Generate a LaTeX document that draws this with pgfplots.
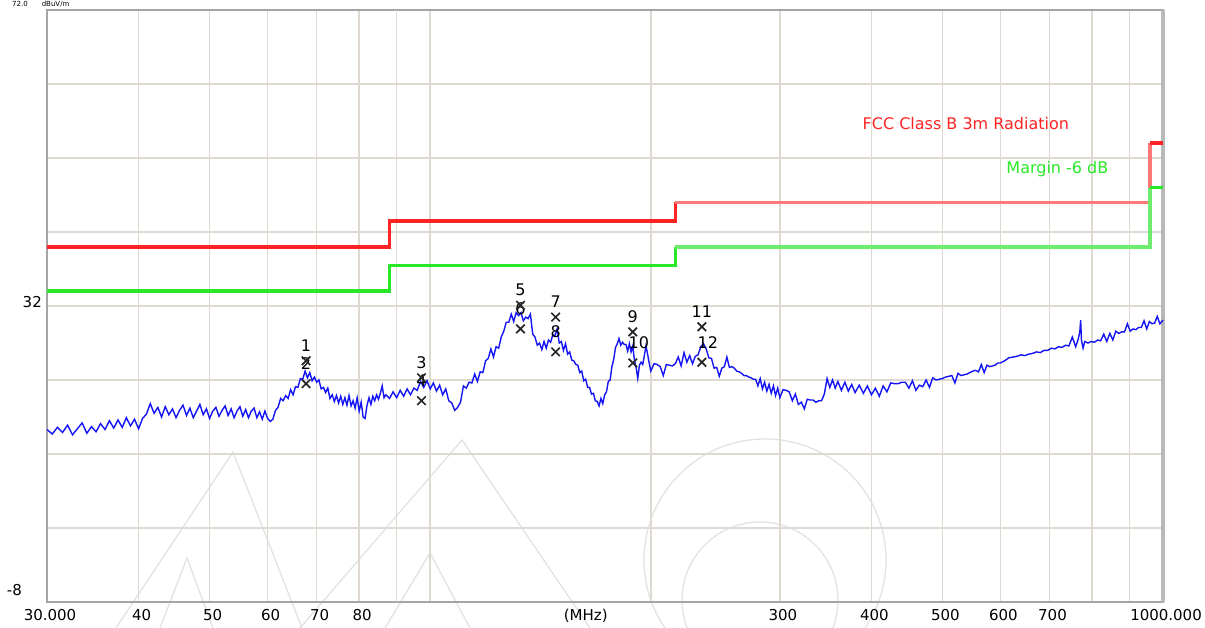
\documentclass[border=0pt]{standalone}
\usepackage{fontspec}
\setmainfont{DejaVu Sans}
\usepackage{pgfplots}
\usepackage{pgfplotstable}
\pgfplotsset{compat=1.18}
\definecolor{gridc}{RGB}{222,218,210}
\definecolor{gridd}{RGB}{198,192,182}
\definecolor{framec}{RGB}{165,165,165}
\definecolor{framer}{RGB}{185,185,185}
\definecolor{limr}{RGB}{255,35,35}
\definecolor{limrl}{RGB}{255,120,120}
\definecolor{limg}{RGB}{40,232,40}
\definecolor{limgl}{RGB}{110,236,110}
\definecolor{trace}{RGB}{20,20,245}
\definecolor{wm}{RGB}{226,226,226}

\pgfplotstableread{
f dB
30.0 15.3
30.5 14.7
31.0 15.6
31.5 14.9
32.0 15.9
32.5 14.6
33.0 15.4
33.5 16.2
34.0 14.8
34.5 15.7
35.0 15.0
35.5 16.1
36.0 15.3
36.5 16.5
37.0 15.5
37.5 16.6
38.0 15.6
38.5 16.9
39.0 15.8
39.5 16.7
40.0 15.4
40.5 16.8
41.0 17.4
41.5 18.8
42.0 17.5
42.5 18.3
43.0 17.0
43.5 18.4
44.0 17.3
44.5 18.1
45.0 16.9
45.5 17.9
46.0 18.6
46.5 17.2
47.0 18.2
47.5 16.9
48.0 17.8
48.5 18.7
49.0 17.3
49.5 18.1
50.0 16.8
50.5 17.8
51.0 18.3
51.5 17.1
52.0 17.9
52.5 18.5
53.0 17.2
53.5 18.1
54.0 16.9
54.5 17.8
55.0 18.4
55.5 17.1
56.0 18.0
56.5 16.9
57.0 17.8
57.5 18.2
58.0 16.9
58.5 17.7
59.0 16.7
59.5 17.8
60.0 16.8
60.5 16.4
61.0 16.7
61.5 17.9
62.0 18.3
62.5 19.5
63.0 19.2
63.5 19.9
64.0 19.5
64.5 20.7
65.0 20.0
65.5 21.1
66.0 21.0
66.5 22.2
67.0 22.1
67.5 23.2
68.0 22.3
68.5 23.0
69.0 21.9
69.5 22.4
70.0 21.7
70.5 22.0
71.0 20.8
71.5 21.0
72.0 20.3
72.5 20.9
73.0 19.5
73.5 20.0
74.0 19.1
74.5 19.9
75.0 18.9
75.5 19.8
76.0 18.7
76.5 19.6
77.0 18.6
77.5 19.9
78.0 18.5
78.5 19.2
79.0 18.2
79.5 19.6
80.0 17.8
80.5 19.0
81.0 17.0
81.5 16.8
82.0 18.6
82.5 19.6
83.0 18.7
83.5 19.8
84.0 19.2
84.5 20.0
85.0 19.4
85.5 20.2
86.0 21.2
86.5 19.6
87 20.0
88 19.5
89 20.4
90 19.6
91 20.6
92 19.8
93 20.8
94 20.0
95 20.9
96 20.6
97 21.8
98 21.0
99 21.9
100 20.8
101 21.6
102 20.5
103 21.3
104 20.0
105 20.8
106 19.2
107 18.9
108 17.9
109 18.3
110 19.0
111 21.2
112 20.9
113 21.7
114 21.6
115 22.8
116 21.8
117 23.1
118 23.0
119 24.6
120 24.9
121 26.2
122 25.1
123 26.5
124 26.3
125 27.8
126 28.6
127 29.8
128 29.8
129 30.9
130 29.9
131 31.1
132 30.7
133 31.1
134 30.0
135 30.5
136 30.3
137 30.9
138 28.2
139 27.8
140 26.7
141 27.0
142 26.1
143 27.2
144 26.3
145 27.4
146 27.1
147 28.1
148 28.0
149 28.9
150 27.0
151 27.2
152 26.0
153 26.9
154 25.5
155 25.8
156 24.7
157 24.6
158 24.1
159 24.0
160 23.0
161 23.2
162 21.9
163 22.1
164 21.0
165 21.0
166 20.1
167 20.2
168 19.2
169 19.1
170 18.5
171 19.5
172 18.8
173 20.0
174 20.4
175 21.8
176 22.0
177 23.8
178 24.8
179 26.4
180 26.9
181 27.6
182 26.7
183 27.1
184 26.8
185 26.8
186 25.9
187 26.9
188 25.8
189 26.6
190 24.6
191 23.7
192 22.2
193 24.0
194 24.4
195 24.1
196 25.3
197 26.6
198 25.5
199 24.3
200 23.2
202 24.2
204 24.1
206 23.8
208 22.6
210 24.1
212 24.0
214 23.9
216 24.2
218 25.1
220 23.9
222 25.7
224 24.4
226 25.3
228 24.2
230 25.2
232 25.4
234 26.5
236 26.9
238 26.2
240 25.0
242 24.9
244 23.6
246 23.7
248 22.5
250 23.6
252 23.8
254 25.1
256 23.7
258 23.8
260 23.6
262 23.2
264 23.1
266 22.9
268 22.6
270 22.6
272 22.4
274 22.3
276 22.1
278 22.1
280 21.2
282 22.2
284 20.8
286 21.7
288 20.5
290 21.4
292 20.2
294 21.2
296 19.9
298 20.9
300 19.6
303 20.7
306 20.6
309 20.4
312 19.2
315 20.1
318 18.7
321 19.0
324 18.1
327 19.4
330 19.3
333 19.3
336 19.0
339 19.2
342 19.2
345 20.1
348 22.2
351 21.0
354 22.0
357 20.9
360 21.8
364 20.6
368 21.7
372 20.5
376 21.4
380 20.3
385 21.3
390 20.2
395 21.2
400 20.0
405 20.9
410 19.8
415 21.2
420 20.4
425 21.6
430 21.5
435 21.5
440 21.7
445 21.7
450 20.9
455 21.9
460 20.6
465 21.3
470 21.1
475 22.0
480 21.0
485 22.3
490 22.0
495 22.1
500 22.2
505 22.4
510 22.5
515 22.6
520 21.6
525 22.9
530 22.6
535 22.7
540 22.8
545 23.0
550 23.2
555 23.3
560 23.1
565 24.1
570 23.0
575 24.0
580 23.8
585 23.9
590 24.0
595 24.3
600 24.3
608 24.6
616 25.0
624 25.1
632 25.2
640 25.4
648 25.3
656 25.5
664 25.6
672 25.8
680 25.7
688 26.0
696 26.0
704 26.3
712 26.2
720 26.5
728 26.4
736 26.7
744 26.6
752 27.8
760 26.5
766 27.5
770 28.5
772 30.1
774 27.4
778 26.3
782 27.2
790 27.0
798 27.2
806 27.1
814 27.4
822 27.3
830 28.2
838 27.2
846 28.3
854 27.4
862 28.6
870 28.3
878 28.5
886 28.5
894 29.6
902 28.6
910 28.9
918 28.8
926 29.1
934 29.1
942 30.0
950 28.9
958 29.9
966 29.6
974 29.7
982 30.6
990 29.6
1000 30.1
}\trace

\pgfplotstableread{
f dB lab
67.7 24.6 1
97.3 22.3 3
132.8 32.1 5
148.3 30.5 7
189.0 28.5 9
234.8 29.2 11
}\oddmk

\pgfplotstableread{
f dB lab
67.7 21.5 2
97.3 19.2 4
132.8 28.9 6
148.3 25.8 8
}\evenmk

\pgfplotstableread{
f dB lab
189.0 24.3 10
234.8 24.4 12
}\evenmkb

\begin{document}
\begin{tikzpicture}[x=1pt,y=1pt]
\useasboundingbox (0,0) rectangle (1205,628);
% faint watermark
\begin{scope}[draw=wm, line width=1.3pt]
\draw (116,0) -- (233,176) -- (302,0);
\draw (160,0) -- (187,70) -- (213,0);
\draw (300,0) -- (462,188) -- (590,0);
\draw (385,0) -- (430,75) -- (470,0);
\draw (765,68) circle (121);
\draw (760,28) circle (78);
\end{scope}
\begin{axis}[
  at={(47pt,26pt)}, anchor=south west,
  scale only axis, width=1116pt, height=592pt,
  xmode=log, xmin=30, xmax=1000, ymin=-8, ymax=72,
  clip=false,
  axis line style={draw=framec, line width=2.5pt},
  grid=major, major grid style={draw=gridc, line width=1.5pt},
  major tick length=0pt,
  xtick={30,40,50,60,70,80,100,200,300,400,500,600,700,800,900,1000},
  xticklabels={30.000,40,50,60,70,80,,,300,400,500,600,700,,,1000.000},
  extra x ticks={90}, extra x tick labels={},
  extra x tick style={grid style={draw=gridd, line width=1.8pt}},
  ytick={-8,2,12,22,32,42,52,62,72}, yticklabels={},
  xticklabel style={font=\fontsize{15}{15}\selectfont, inner sep=0pt, anchor=north, yshift=-7pt, xshift=3pt},
]
\draw[draw=framer, line width=4.5pt] (rel axis cs:1,0) -- (rel axis cs:1,1);
% even labels (mostly hidden under the trace)
\addplot[draw=none, mark=none, nodes near coords, point meta=explicit symbolic,
  every node near coord/.append style={font=\fontsize{16}{16}\selectfont, inner sep=0pt, anchor=south, yshift=14pt}]
  table[x=f, y=dB, meta=lab] {\evenmk};
\addplot[draw=none, mark=none, nodes near coords, point meta=explicit symbolic,
  every node near coord/.append style={font=\fontsize{16}{16}\selectfont, inner sep=0pt, anchor=south, yshift=14pt, xshift=6pt}]
  table[x=f, y=dB, meta=lab] {\evenmkb};
% limit lines
\addplot[limr, line width=3.5pt] coordinates {(30,40) (88,40) (88,43.5) (216,43.5) (216,46)};
\addplot[limrl, line width=3.5pt] coordinates {(216,46) (960,46) (960,54)};
\addplot[limr, line width=3.5pt] coordinates {(960,54) (1000,54)};
\addplot[limg, line width=3.5pt] coordinates {(30,34) (88,34) (88,37.5) (216,37.5) (216,40)};
\addplot[limgl, line width=3.5pt] coordinates {(216,40) (960,40) (960,48)};
\addplot[limg, line width=3.5pt] coordinates {(960,48) (1000,48)};
% measured trace
\addplot[trace, line width=1.4pt, mark=none] table[x=f, y=dB] {\trace};
% markers
\addplot[only marks, mark=x, mark size=6pt, black!85, line width=1.7pt]
  table[x=f, y=dB] {\evenmk};
\addplot[only marks, mark=x, mark size=6pt, black!85, line width=1.7pt]
  table[x=f, y=dB] {\evenmkb};
\addplot[only marks, mark=x, mark size=6pt, black!85, line width=1.7pt,
  nodes near coords, point meta=explicit symbolic,
  every node near coord/.append style={font=\fontsize{16}{16}\selectfont, text=black, inner sep=0pt, anchor=south, yshift=8.5pt}]
  table[x=f, y=dB, meta=lab] {\oddmk};
% legend texts
\node[anchor=west, text=limr, font=\fontsize{16}{16}\selectfont, inner sep=0pt] at (axis cs:389,56.6) {FCC Class B 3m Radiation};
\node[anchor=west, text=limg, font=\fontsize{16}{16}\selectfont, inner sep=0pt] at (axis cs:611,50.5) {Margin -6 dB};
\node[anchor=north, font=\fontsize{15}{15}\selectfont, inner sep=0pt] at (axis cs:163,-8) [yshift=-7pt] {(MHz)};
\end{axis}
\node[anchor=east, font=\fontsize{15}{15}\selectfont, inner sep=0pt] at (42,326) {32};
\node[anchor=east, font=\fontsize{15}{15}\selectfont, inner sep=0pt] at (22,38) {-8};
\node[anchor=base west, font=\fontsize{7}{7}\selectfont, inner sep=0pt] at (12,621) {72.0\hspace{14pt}dBuV/m};
\end{tikzpicture}
\end{document}
